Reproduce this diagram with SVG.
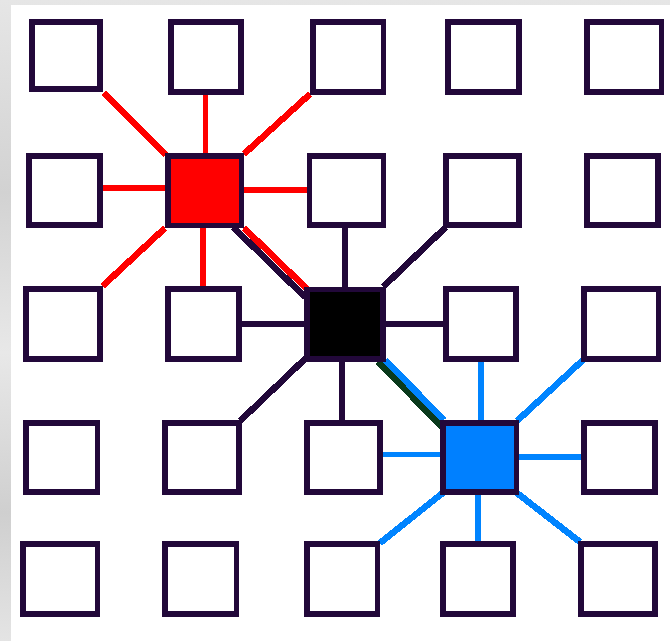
<svg xmlns="http://www.w3.org/2000/svg" width="670" height="641" viewBox="0 0 670 641" shape-rendering="crispEdges">
  <defs>
    <linearGradient id="stone" x1="0" y1="0" x2="0" y2="1">
      <stop offset="0" stop-color="#e6e6e6"/>
      <stop offset="0.3" stop-color="#d2d2d2"/>
      <stop offset="0.55" stop-color="#e8e8e8"/>
      <stop offset="0.8" stop-color="#cfcfcf"/>
      <stop offset="1" stop-color="#e4e4e4"/>
    </linearGradient>
    <style>
      .node { fill: #ffffff; stroke: #22083a; stroke-width: 5.5; }
      .hub-red { fill: #ff0000; }
      .hub-black { fill: #000000; }
      .hub-blue { fill: #0080ff; }
      .link { stroke-width: 5.5; stroke-linecap: butt; fill: none; }
      .diag { stroke-width: 6.5; }
      .red { stroke: #ff0000; }
      .dark { stroke: #22083a; }
      .blue { stroke: #0084ff; }
      .green { stroke: #0a3a1c; }
    </style>
  </defs>

  <!-- stone frame and white canvas -->
  <rect x="0" y="0" width="670" height="641" fill="url(#stone)"/>
  <rect x="11" y="5" width="659" height="636" fill="#ffffff"/>

  <g id="connectors">
    <!-- red hub -->
    <line class="link diag red" x1="104" y1="93" x2="166" y2="155"/>
    <line class="link red" x1="205.5" y1="94.7" x2="205.5" y2="153.3"/>
    <line class="link diag red" x1="244" y1="154" x2="310" y2="94"/>
    <line class="link red" x1="102.7" y1="188" x2="165" y2="188"/>
    <line class="link red" x1="244" y1="190" x2="306.7" y2="190"/>
    <line class="link diag red" x1="165" y1="228" x2="102.7" y2="286"/>
    <line class="link red" x1="203" y1="228" x2="203" y2="286"/>
    <line class="link diag dark" x1="233" y1="227" x2="305" y2="297"/>
    <line class="link diag red" x1="244" y1="228" x2="307" y2="289"/>
    <!-- black hub -->
    <line class="link dark" x1="345" y1="227.7" x2="345" y2="286.7"/>
    <line class="link diag dark" x1="383" y1="287" x2="446" y2="227"/>
    <line class="link dark" x1="241.7" y1="324" x2="312" y2="324"/>
    <line class="link dark" x1="385.7" y1="324" x2="443.3" y2="324"/>
    <line class="link diag dark" x1="308" y1="356" x2="240" y2="421"/>
    <line class="link dark" x1="342" y1="361.7" x2="342" y2="420"/>
    <line class="link diag green" x1="378" y1="361.7" x2="442" y2="427"/>
    <line class="link diag blue" x1="385" y1="360" x2="444" y2="420"/>
    <!-- blue hub -->
    <line class="link blue" x1="481" y1="361.7" x2="481" y2="420"/>
    <line class="link diag blue" x1="517" y1="421" x2="583" y2="360"/>
    <line class="link blue" x1="382.7" y1="454.5" x2="440" y2="454.5"/>
    <line class="link blue" x1="519" y1="457" x2="581" y2="457"/>
    <line class="link diag blue" x1="442.7" y1="493" x2="380" y2="543"/>
    <line class="link blue" x1="478" y1="494" x2="478" y2="541"/>
    <line class="link diag blue" x1="517" y1="493" x2="580" y2="542"/>
  </g>

  <!-- row 0 -->
  <g id="n00"><rect class="node" x="32" y="21.75" width="68" height="67"/></g>
  <g id="n01"><rect class="node" x="171" y="21.75" width="70" height="70"/></g>
  <g id="n02"><rect class="node" x="312.75" y="21.75" width="70.5" height="70"/></g>
  <g id="n03"><rect class="node" x="447.75" y="21.75" width="71" height="70"/></g>
  <g id="n04"><rect class="node" x="586.75" y="21.75" width="74.5" height="70"/></g>
  <!-- row 1 -->
  <g id="n10"><rect class="node" x="28.75" y="156" width="71" height="69"/></g>
  <g id="n11"><rect class="node hub-red" x="167.75" y="156" width="73.5" height="69.5"/></g>
  <g id="n12"><rect class="node" x="309.5" y="156" width="74" height="69"/></g>
  <g id="n13"><rect class="node" x="445.75" y="156" width="73" height="69"/></g>
  <g id="n14"><rect class="node" x="586.75" y="156" width="71" height="69"/></g>
  <!-- row 2 -->
  <g id="n20"><rect class="node" x="25.75" y="288.75" width="74" height="70"/></g>
  <g id="n21"><rect class="node" x="167.75" y="288.75" width="71" height="70"/></g>
  <g id="n22"><rect class="node hub-black" x="307" y="289.5" width="76" height="69.5"/></g>
  <g id="n23"><rect class="node" x="446" y="288.75" width="70" height="70"/></g>
  <g id="n24"><rect class="node" x="583.75" y="288.75" width="74.5" height="70"/></g>
  <!-- row 3 -->
  <g id="n30"><rect class="node" x="25.75" y="422.75" width="71.5" height="69"/></g>
  <g id="n31"><rect class="node" x="164.75" y="422.75" width="74" height="69"/></g>
  <g id="n32"><rect class="node" x="306.75" y="422.75" width="73" height="69"/></g>
  <g id="n33"><rect class="node hub-blue" x="442.75" y="422.75" width="73.5" height="69"/></g>
  <g id="n34"><rect class="node" x="583.75" y="422.75" width="71" height="69"/></g>
  <!-- row 4 -->
  <g id="n40"><rect class="node" x="22.75" y="543.75" width="74.5" height="70"/></g>
  <g id="n41"><rect class="node" x="164.75" y="543.75" width="71.5" height="70"/></g>
  <g id="n42"><rect class="node" x="306.75" y="543.75" width="70.5" height="70"/></g>
  <g id="n43"><rect class="node" x="442.75" y="543.75" width="70" height="70"/></g>
  <g id="n44"><rect class="node" x="580.75" y="543.75" width="74" height="70"/></g>
</svg>
